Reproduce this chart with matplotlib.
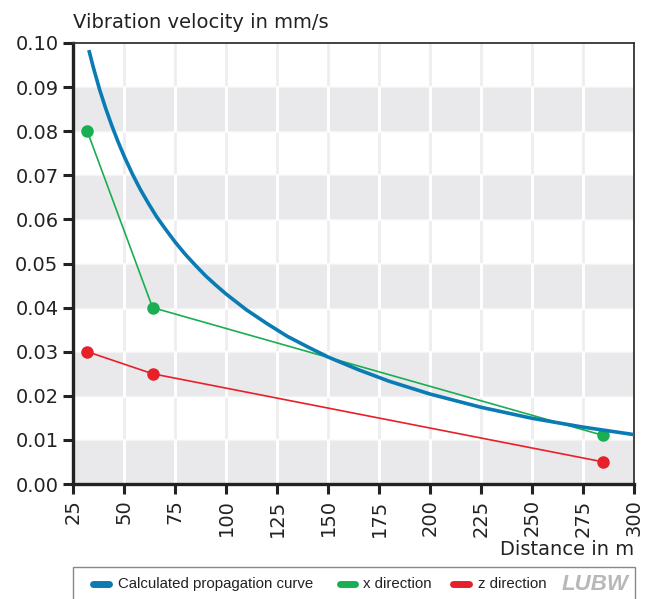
import matplotlib.pyplot as plt
from matplotlib.patches import Rectangle
from matplotlib.lines import Line2D

plt.rcParams['font.family'] = ['DejaVu Sans']

# Data
curve_dist = [33, 35, 38, 41, 44, 47, 50, 54, 58, 62, 66, 70, 75, 80, 85, 90,
              95, 100, 110, 120, 130, 140, 150, 165, 180, 200, 225, 250, 275, 300]
curve_vel = [0.0980, 0.0944, 0.0895, 0.0852, 0.0813, 0.0777, 0.0744, 0.0704,
             0.0668, 0.0636, 0.0606, 0.0580, 0.0549, 0.0521, 0.0496, 0.0472,
             0.0451, 0.0431, 0.0395, 0.0364, 0.0335, 0.0311, 0.0288, 0.0259,
             0.0233, 0.0204, 0.0174, 0.0149, 0.0129, 0.0112]

meas_dist = [32, 64, 285]
x_dir = [0.080, 0.040, 0.011]
z_dir = [0.030, 0.025, 0.005]

x_ticks = [25, 50, 75, 100, 125, 150, 175, 200, 225, 250, 275, 300]
y_ticks = [0.00, 0.01, 0.02, 0.03, 0.04, 0.05, 0.06, 0.07, 0.08, 0.09, 0.10]

legend_labels = ['Calculated propagation curve', 'x direction', 'z direction']

blue = '#0a7bb3'
green = '#1aae52'
red = '#e8202a'
band = '#e9e9eb'

fig = plt.figure(figsize=(6.47, 5.99), dpi=100)
ax = fig.add_axes([73 / 647, 1 - 484 / 599, 561 / 647, 441 / 599])

# alternating background bands
for i in range(0, 10, 2):
    ax.axhspan(i * 0.01, (i + 1) * 0.01, color=band, lw=0, zorder=0)

# vertical grid: light gray on white, white on gray bands
for xv in x_ticks[1:-1]:
    ax.axvline(xv, color='#eeeeee', lw=2, zorder=0.5)
    for i in range(0, 10, 2):
        ax.plot([xv, xv], [i * 0.01, (i + 1) * 0.01], color='white', lw=2, zorder=0.6)
for yv in y_ticks[1:-1]:
    ax.axhline(yv, color='#f3f3f3', lw=1, zorder=0.4)

ax.plot(meas_dist, x_dir, color=green, lw=1.2, marker='o', ms=8, zorder=3)
ax.plot(meas_dist, z_dir, color=red, lw=1.2, marker='o', ms=8, zorder=3)
ax.plot(curve_dist, curve_vel, color=blue, lw=2.6, zorder=4,
        solid_joinstyle='round')

ax.set_xlim(25, 300)
ax.set_ylim(0, 0.10)
ax.set_xticks(x_ticks)
ax.set_yticks(y_ticks)
ax.set_yticklabels(['%.2f' % v for v in y_ticks])
ax.set_xticklabels([str(v) for v in x_ticks], rotation=90)
ax.tick_params(axis='both', direction='out', length=7, width=2.2,
               labelsize=14, color='#222222', labelcolor='#222222')
ax.tick_params(axis='x', pad=4)

for side in ['left', 'bottom']:
    ax.spines[side].set_linewidth(2.4)
    ax.spines[side].set_color('#222222')
for side in ['top', 'right']:
    ax.spines[side].set_linewidth(1.3)
    ax.spines[side].set_color('#333333')

fig.text(73 / 647, 1 - 28 / 599, 'Vibration velocity in mm/s', fontsize=14,
         color='#222222', ha='left', va='baseline')
fig.text(634 / 647, 1 - 555 / 599, 'Distance in m', fontsize=14,
         color='#222222', ha='right', va='baseline')

# legend box (cut at bottom edge)
fig.patches.append(Rectangle((73 / 647, -0.05), 562 / 647, 0.05 + (599 - 567) / 599,
                             transform=fig.transFigure, fill=False,
                             edgecolor='#888888', lw=1))
# legend entries placed by hand: handle start x, text start x (pixels)
legend_pos = [(92.5, 118), (339.5, 363), (452.5, 478)]
ly = 1 - 584 / 599
for (hx, tx), lab, col in zip(legend_pos, legend_labels, [blue, green, red]):
    fig.lines.append(Line2D([hx / 647, (hx + 16) / 647], [ly, ly], color=col,
                            lw=5, solid_capstyle='round',
                            transform=fig.transFigure))
    fig.text(tx / 647, ly, lab, fontsize=10.8, color='#222222', ha='left',
             va='center', family='Liberation Sans')
fig.text(595 / 647, ly, 'LUBW', fontsize=16, color='#b8b8bb',
         fontweight='bold', fontstyle='italic', ha='center', va='center',
         family='Liberation Sans')

fig.savefig('out.png', dpi=100)
